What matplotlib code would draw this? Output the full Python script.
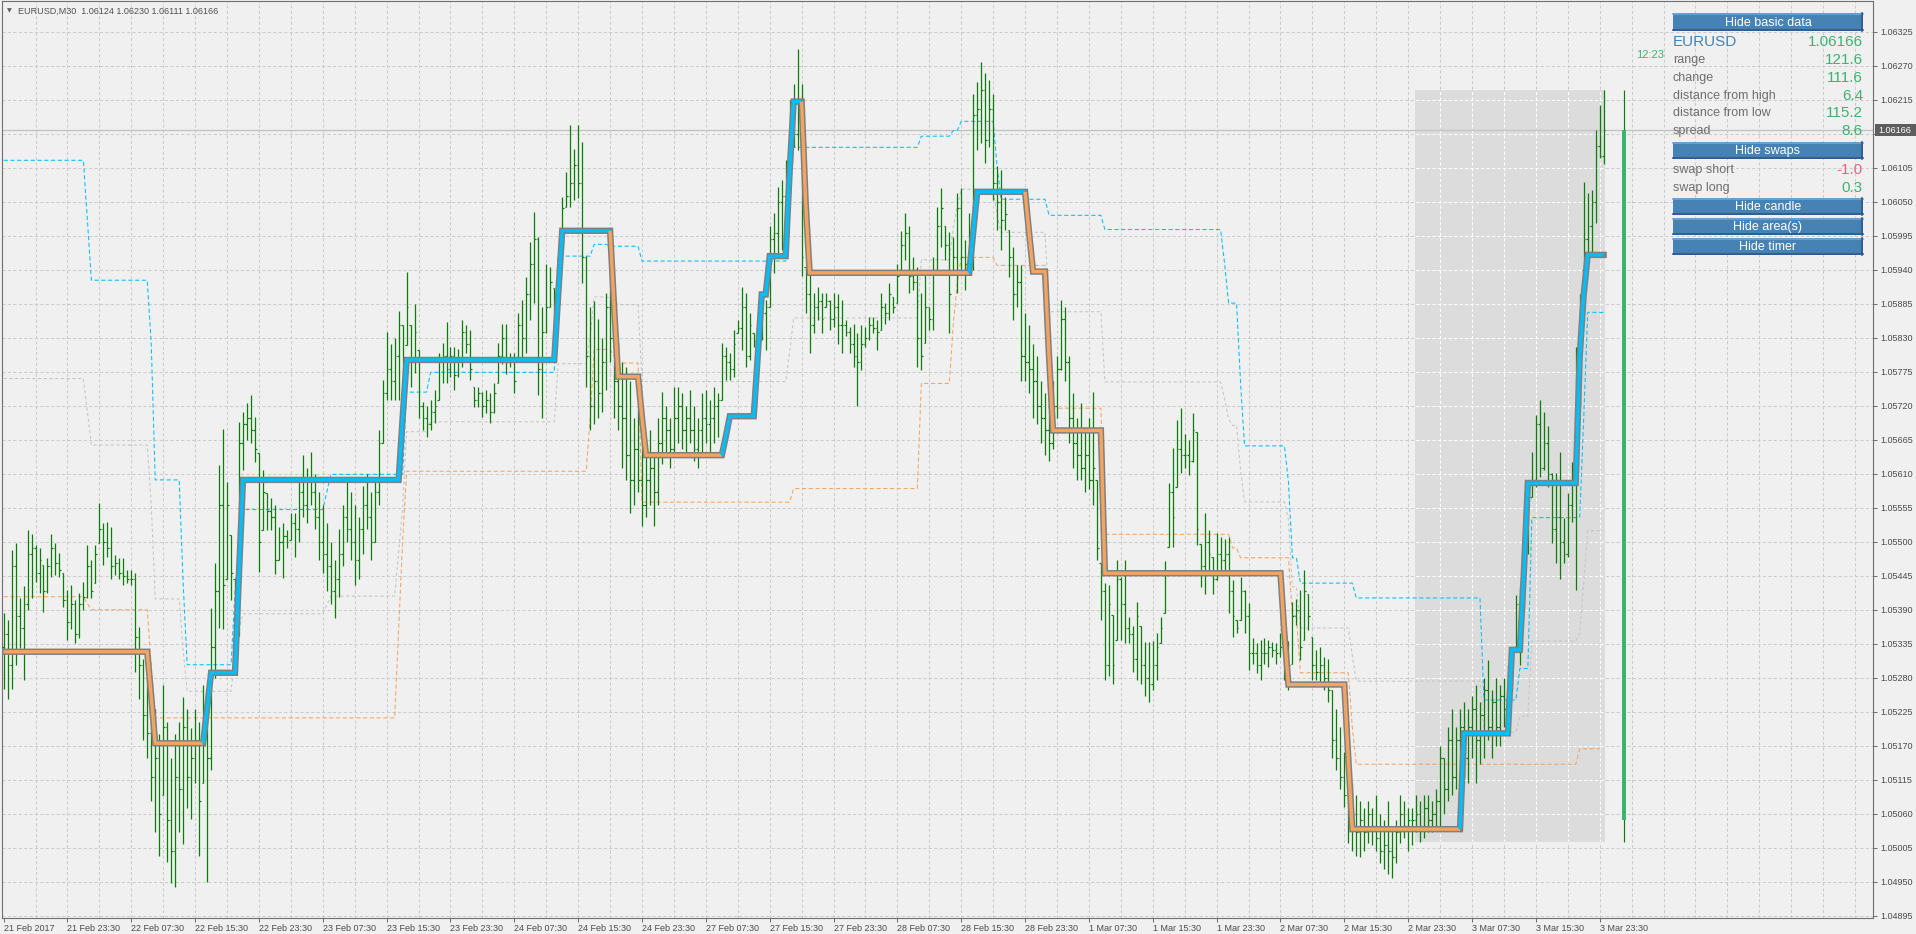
import numpy as np
import matplotlib
matplotlib.use("Agg")
import matplotlib.pyplot as plt
from matplotlib.patches import Rectangle

plt.rcParams['font.family'] = ['Liberation Sans', 'DejaVu Sans']

# ---------------- data (prices in points above 1.00000) ----------------
hi = [5384, 5374, 5487, 5498, 5409, 5428, 5519, 5513, 5495, 5490,
      5463, 5474, 5513, 5498, 5482, 5450, 5422, 5430, 5406, 5417,
      5435, 5495, 5471, 5495, 5562, 5530, 5532, 5524, 5479, 5474,
      5474, 5455, 5455, 5450, 5362, 5310, 5280, 5250, 5229, 5189,
      5269, 5209, 5150, 5189, 5209, 5249, 5229, 5199, 5229, 5209,
      5269, 5229, 5393, 5466, 5624, 5683, 5597, 5511, 5439, 5694,
      5710, 5724, 5737, 5702, 5643, 5616, 5579, 5571, 5560, 5524,
      5530, 5519, 5546, 5546, 5600, 5640, 5620, 5645, 5610, 5580,
      5560, 5530, 5500, 5470, 5520, 5560, 5600, 5580, 5560, 5540,
      5590, 5610, 5580, 5600, 5680, 5761, 5839, 5820, 5830, 5874,
      5850, 5936, 5850, 5884, 5810, 5726, 5720, 5730, 5745, 5805,
      5821, 5855, 5815, 5815, 5812, 5858, 5850, 5842, 5750, 5750,
      5742, 5745, 5740, 5756, 5821, 5853, 5853, 5805, 5805, 5870,
      5891, 5928, 5985, 6033, 5993, 5880, 5950, 5945, 5910, 5960,
      6058, 6098, 6174, 6136, 6174, 6146, 5963, 5879, 5890, 5860,
      5830, 5902, 5983, 5842, 5822, 5790, 5783, 5760, 5700, 5720,
      5704, 5660, 5680, 5645, 5700, 5743, 5720, 5700, 5750, 5750,
      5740, 5720, 5745, 5720, 5700, 5740, 5745, 5730, 5750, 5740,
      5821, 5815, 5805, 5842, 5858, 5912, 5902, 5870, 5837, 5870,
      5891, 5891, 6010, 6031, 6074, 6085, 6117, 6215, 6240, 6297,
      6240, 5944, 5950, 5902, 5912, 5902, 5902, 5891, 5902, 5900,
      5891, 5858, 5848, 5853, 5837, 5850, 5848, 5864, 5864, 5858,
      5902, 5886, 5918, 5896, 5950, 6002, 6031, 6010, 5961, 5945,
      5902, 5934, 5880, 5961, 6042, 6072, 6010, 6001, 5993, 6064,
      6072, 5988, 6031, 6225, 6244, 6276, 6258, 6247, 6225, 6107,
      6101, 6058, 6004, 5977, 5947, 5947, 5870, 5850, 5820, 5800,
      5760, 5740, 5720, 5760, 5800, 5891, 5880, 5800, 5740, 5700,
      5724, 5680, 5700, 5743, 5600, 5465, 5433, 5430, 5382, 5471,
      5443, 5471, 5379, 5363, 5403, 5363, 5338, 5338, 5340, 5352,
      5379, 5468, 5595, 5651, 5697, 5716, 5675, 5665, 5708, 5678,
      5497, 5546, 5519, 5476, 5514, 5508, 5505, 5508, 5438, 5373,
      5443, 5422, 5401, 5344, 5336, 5341, 5344, 5341, 5338, 5336,
      5352, 5338, 5340, 5403, 5408, 5422, 5455, 5416, 5346, 5325,
      5330, 5314, 5311, 5260, 5229, 5200, 5160, 5120, 5110, 5091,
      5080, 5070, 5081, 5070, 5090, 5060, 5050, 5081, 5040, 5050,
      5090, 5081, 5070, 5070, 5091, 5081, 5090, 5091, 5081, 5100,
      5170, 5150, 5200, 5229, 5200, 5229, 5240, 5229, 5250, 5269,
      5240, 5280, 5308, 5260, 5280, 5269, 5280, 5300, 5309, 5414,
      5427, 5546, 5600, 5645, 5705, 5729, 5710, 5687, 5611, 5611,
      5645, 5538, 5579, 5629, 5815, 5900, 6082, 6064, 6069, 6166,
      6206, 6230]
lo = [5261, 5245, 5261, 5300, 5328, 5277, 5390, 5409, 5435, 5417,
      5387, 5417, 5443, 5446, 5443, 5395, 5341, 5358, 5336, 5345,
      5390, 5409, 5409, 5433, 5498, 5463, 5476, 5439, 5446, 5439,
      5430, 5433, 5430, 5290, 5245, 5180, 5150, 5080, 5031, 4992,
      5090, 4982, 4948, 4942, 5031, 5011, 5070, 5051, 5110, 4992,
      5110, 4950, 5130, 5280, 5360, 5359, 5439, 5406, 5377, 5347,
      5616, 5665, 5660, 5629, 5451, 5519, 5519, 5519, 5448, 5471,
      5441, 5490, 5503, 5476, 5500, 5540, 5530, 5560, 5520, 5470,
      5450, 5420, 5400, 5377, 5410, 5460, 5500, 5470, 5430, 5440,
      5480, 5520, 5470, 5500, 5560, 5660, 5729, 5729, 5729, 5729,
      5729, 5818, 5750, 5773, 5700, 5680, 5670, 5680, 5692, 5729,
      5756, 5756, 5767, 5745, 5767, 5782, 5805, 5761, 5718, 5718,
      5702, 5708, 5692, 5708, 5756, 5788, 5772, 5783, 5740, 5799,
      5799, 5805, 5858, 5886, 5737, 5700, 5837, 5880, 5805, 5860,
      6000, 6041, 6041, 6053, 6056, 5918, 5750, 5680, 5690, 5700,
      5710, 5745, 5790, 5700, 5680, 5620, 5600, 5546, 5560, 5580,
      5526, 5540, 5560, 5526, 5560, 5625, 5640, 5620, 5640, 5660,
      5650, 5640, 5660, 5630, 5620, 5640, 5660, 5640, 5660, 5670,
      5729, 5762, 5762, 5767, 5837, 5810, 5783, 5794, 5815, 5815,
      5826, 5810, 5880, 5935, 5967, 5972, 6026, 6074, 6139, 6134,
      5930, 5870, 5805, 5837, 5858, 5837, 5880, 5842, 5848, 5820,
      5805, 5832, 5805, 5783, 5720, 5778, 5815, 5826, 5837, 5810,
      5842, 5853, 5858, 5870, 5886, 5934, 5956, 5902, 5907, 5783,
      5778, 5821, 5842, 5842, 5934, 5977, 5956, 5837, 5934, 5902,
      5934, 5907, 5961, 5940, 6134, 6145, 6112, 6139, 6053, 6004,
      5972, 6004, 5929, 5858, 5880, 5760, 5760, 5740, 5700, 5690,
      5660, 5640, 5630, 5650, 5700, 5778, 5760, 5660, 5620, 5600,
      5600, 5580, 5585, 5560, 5470, 5373, 5277, 5282, 5270, 5341,
      5341, 5336, 5336, 5290, 5277, 5270, 5250, 5240, 5260, 5277,
      5336, 5384, 5492, 5492, 5589, 5611, 5619, 5608, 5629, 5495,
      5427, 5416, 5455, 5416, 5438, 5449, 5455, 5384, 5346, 5352,
      5373, 5352, 5293, 5302, 5287, 5277, 5302, 5298, 5314, 5302,
      5314, 5277, 5260, 5302, 5365, 5309, 5341, 5357, 5277, 5277,
      5270, 5260, 5240, 5150, 5130, 5100, 5071, 5012, 5000, 4992,
      4990, 5000, 5012, 5010, 5000, 4980, 4970, 4962, 4956, 4980,
      5012, 5020, 5000, 5010, 5030, 5014, 5020, 5030, 5031, 5040,
      5040, 5060, 5080, 5091, 5100, 5110, 5120, 5110, 5150, 5110,
      5140, 5150, 5180, 5150, 5170, 5170, 5200, 5200, 5260, 5330,
      5300, 5387, 5480, 5572, 5589, 5605, 5616, 5589, 5498, 5465,
      5439, 5465, 5476, 5532, 5422, 5720, 5939, 5956, 5966, 6015,
      6120, 6111]
cl = [5350, 5300, 5460, 5380, 5360, 5400, 5480, 5490, 5450, 5470,
      5420, 5460, 5490, 5465, 5455, 5405, 5370, 5400, 5350, 5400,
      5410, 5460, 5420, 5480, 5520, 5500, 5490, 5460, 5465, 5450,
      5445, 5440, 5440, 5346, 5300, 5220, 5190, 5120, 5150, 5060,
      5200, 5050, 5000, 5120, 5100, 5200, 5120, 5150, 5180, 5080,
      5230, 5150, 5330, 5420, 5560, 5430, 5560, 5450, 5420, 5660,
      5690, 5700, 5680, 5650, 5500, 5580, 5550, 5540, 5470, 5500,
      5510, 5500, 5530, 5520, 5580, 5560, 5600, 5580, 5540, 5500,
      5480, 5460, 5420, 5440, 5480, 5540, 5520, 5500, 5470, 5520,
      5560, 5540, 5500, 5580, 5660, 5740, 5780, 5760, 5800, 5850,
      5780, 5880, 5790, 5840, 5720, 5700, 5690, 5710, 5720, 5790,
      5800, 5780, 5800, 5770, 5795, 5840, 5820, 5780, 5730, 5740,
      5720, 5730, 5710, 5740, 5800, 5830, 5790, 5795, 5760, 5850,
      5830, 5900, 5950, 5990, 5780, 5840, 5880, 5920, 5880, 5940,
      6040, 6060, 6080, 6110, 6080, 5960, 5800, 5720, 5760, 5740,
      5790, 5880, 5830, 5760, 5720, 5700, 5640, 5600, 5650, 5600,
      5560, 5600, 5620, 5580, 5660, 5700, 5680, 5650, 5700, 5720,
      5680, 5700, 5680, 5650, 5680, 5700, 5690, 5700, 5720, 5730,
      5800, 5790, 5780, 5820, 5845, 5880, 5800, 5850, 5825, 5860,
      5870, 5880, 5990, 6000, 6050, 6060, 6100, 6190, 6160, 6180,
      5960, 5900, 5850, 5880, 5890, 5860, 5890, 5860, 5880, 5850,
      5850, 5840, 5820, 5800, 5790, 5820, 5830, 5850, 5845, 5840,
      5880, 5870, 5900, 5880, 5930, 5980, 6000, 5930, 5920, 5830,
      5800, 5880, 5860, 5940, 6010, 6040, 5980, 5900, 5960, 6040,
      5960, 5950, 6000, 6190, 6200, 6230, 6150, 6200, 6080, 6050,
      6020, 6030, 5960, 5900, 5920, 5800, 5790, 5780, 5760, 5720,
      5700, 5680, 5660, 5720, 5780, 5860, 5790, 5700, 5660, 5640,
      5620, 5640, 5600, 5620, 5490, 5420, 5300, 5400, 5300, 5440,
      5400, 5360, 5350, 5310, 5380, 5300, 5280, 5270, 5300, 5330,
      5360, 5450, 5580, 5540, 5650, 5640, 5640, 5630, 5680, 5520,
      5460, 5500, 5480, 5440, 5480, 5470, 5480, 5420, 5380, 5360,
      5420, 5380, 5320, 5320, 5300, 5320, 5320, 5330, 5325, 5320,
      5330, 5290, 5300, 5380, 5390, 5330, 5420, 5380, 5300, 5290,
      5300, 5280, 5260, 5180, 5150, 5120, 5090, 5040, 5060, 5030,
      5050, 5030, 5060, 5040, 5020, 5000, 5010, 5000, 4990, 5030,
      5060, 5040, 5050, 5050, 5060, 5040, 5070, 5050, 5060, 5080,
      5150, 5100, 5180, 5120, 5180, 5200, 5150, 5200, 5230, 5180,
      5220, 5260, 5200, 5240, 5200, 5250, 5230, 5280, 5290, 5400,
      5380, 5520, 5560, 5600, 5690, 5620, 5660, 5610, 5520, 5540,
      5500, 5480, 5560, 5600, 5790, 5880, 5990, 6010, 6050, 6140,
      6124, 6166]
first_open = 5330

# step trend line: bar where each level starts, and the level
trend_start = [0, 37, 38, 51, 52, 59, 60, 100, 101, 139, 140, 153, 154, 160, 161,
               181, 182, 189, 190, 192, 197, 198, 201, 202, 243, 244, 257, 258,
               262, 263, 276, 321, 322, 337, 338, 366, 378, 381, 382, 395, 396, 397]
trend_level = [5322, 5250, 5174, 5230, 5288, 5450, 5600, 5700, 5794, 5900, 6003,
               5880, 5767, 5700, 5640, 5670, 5703, 5800, 5900, 5962, 6100, 6212,
               6050, 5935, 6000, 6066, 6000, 5937, 5800, 5680, 5449, 5350, 5269,
               5150, 5035, 5190, 5325, 5450, 5595, 5800, 5900, 5964]

# channel upper / lower (dashed)
upper_start = [0, 21, 22, 37, 38, 45, 46, 58, 59, 60, 81, 82, 101, 107, 139, 148,
               152, 160, 197, 198, 230, 238, 240, 249, 250, 262, 276, 306, 307,
               310, 311, 322, 323, 325, 339, 371, 380, 383, 396, 397]
upper_level = [6117, 6020, 5923, 5821, 5600, 5433, 5301, 5420, 5500, 5552, 5580,
               5609, 5742, 5774, 5962, 5981, 5978, 5954, 6050, 6138, 6156, 6165,
               6180, 6106, 6054, 6028, 6005, 5950, 5886, 5757, 5655, 5597, 5474,
               5433, 5409, 5244, 5295, 5539, 5700, 5871]
lower_start = [0, 21, 22, 37, 38, 99, 100, 101, 147, 148, 153, 154, 160, 198, 230,
               238, 239, 240, 249, 262, 276, 308, 310, 323, 325, 338, 339, 395]
lower_level = [5411, 5400, 5390, 5300, 5215, 5358, 5500, 5614, 5700, 5811, 5800,
               5789, 5564, 5586, 5756, 5850, 5920, 5960, 5947, 5716, 5512, 5490,
               5474, 5380, 5288, 5200, 5140, 5165]

# current day candle: open, high, low, close
day_ohlc = [5050, 6230, 5014, 6166]
day_first_bar = 354

date_labels = ["21 Feb 2017", "21 Feb 23:30", "22 Feb 07:30", "22 Feb 15:30",
               "22 Feb 23:30", "23 Feb 07:30", "23 Feb 15:30", "23 Feb 23:30",
               "24 Feb 07:30", "24 Feb 15:30", "24 Feb 23:30", "27 Feb 07:30",
               "27 Feb 15:30", "27 Feb 23:30", "28 Feb 07:30", "28 Feb 15:30",
               "28 Feb 23:30", "1 Mar 07:30", "1 Mar 15:30", "1 Mar 23:30",
               "2 Mar 07:30", "2 Mar 15:30", "2 Mar 23:30", "3 Mar 07:30",
               "3 Mar 15:30", "3 Mar 23:30"]
price_ticks = list(range(4895, 6326, 55))

title_text = "EURUSD,M30  1.06124 1.06230 1.06111 1.06166"
info_labels = ["range", "change", "distance from high", "distance from low", "spread"]
info_values = ["121.6", "111.6", "6.4", "115.2", "8.6"]
swap_labels = ["swap short", "swap long"]
swap_values = ["-1.0", "0.3"]
timer_text = "12:23"

# ---------------- helpers ----------------
def px(p):
    return 1.0 + np.asarray(p, float) / 1e5

def step_series(starts, levels, x):
    idx = np.searchsorted(starts, x, side='right') - 1
    return np.asarray(levels, float)[idx]

BG = '#F0F0F0'
GRID = '#CCCCCC'
BAR = '#0A7D0A'
BLUE = '#00BFFF'
ORANGE = '#F4A460'
W, H = 1916, 934

fig = plt.figure(figsize=(W / 100, H / 100), dpi=100)
fig.patch.set_facecolor(BG)
ax = fig.add_axes([2 / W, 16 / H, 1871 / W, 917 / H])
ax.set_facecolor(BG)
XMIN, XMAX = -0.4, 468.5
YMIN, YMAX = px(4891.3), px(6374.7)
ax.set_xlim(XMIN, XMAX)
ax.set_ylim(YMIN, YMAX)

bars = np.arange(len(cl))

# grid
xg = np.arange(8, XMAX, 8)
yg = px(price_ticks)
grid_kw = dict(linewidth=0.75, linestyles=(0, (3, 2.2)))
ax.vlines(xg, YMIN, YMAX, colors=GRID, zorder=0.5, **grid_kw)
ax.hlines(yg, XMIN, XMAX, colors=GRID, zorder=0.5, **grid_kw)

# day area
d_open, d_high, d_low, d_close = day_ohlc
area = Rectangle((day_first_bar - 0.4, px(d_low)), bars[-1] - day_first_bar + 0.8,
                 px(d_high) - px(d_low), facecolor='#DCDCDC', edgecolor='none', zorder=1)
ax.add_patch(area)
wv = ax.vlines(xg, YMIN, YMAX, colors='white', zorder=1.2, **grid_kw)
wh = ax.hlines(yg, XMIN, XMAX, colors='white', zorder=1.2, **grid_kw)
wv.set_clip_path(area)
wh.set_clip_path(area)

# current price line
ax.axhline(px(cl[-1]), color='#C4C4C4', lw=1.0, zorder=1.5)

# channel lines
upper = step_series(upper_start, upper_level, bars)
lower = step_series(lower_start, lower_level, bars)
mid = (upper + lower) / 2
ax.plot(bars, px(mid), color='#C4C4C4', lw=0.75, dashes=(3, 2.5), zorder=2)
ax.plot(bars, px(upper), color=BLUE, lw=0.75, dashes=(4, 2.5), zorder=2.1)
ax.plot(bars, px(lower), color=ORANGE, lw=0.75, dashes=(4, 2.5), zorder=2.1)

# OHLC bars
hi_a, lo_a, cl_a = np.array(hi), np.array(lo), np.array(cl)
op_a = np.clip(np.r_[first_open, cl_a[:-1]], lo_a, hi_a)
cl_a = np.clip(cl_a, lo_a, hi_a)
ax.vlines(bars, px(lo_a), px(hi_a), colors=BAR, lw=0.9, zorder=3)
ax.hlines(px(op_a), bars - 0.4, bars, colors=BAR, lw=0.85, zorder=3)
ax.hlines(px(cl_a), bars, bars + 0.4, colors=BAR, lw=0.85, zorder=3)

# day candle, drawn a few bars right of the last bar
cx = bars[-1] + 5
ax.vlines(cx, px(d_low), px(d_high), colors=BAR, lw=0.85, zorder=3)
ax.add_patch(Rectangle((cx - 0.5, px(d_open)), 1.0, px(d_close) - px(d_open),
                       facecolor='#3CB371', edgecolor='none', zorder=3.1))

# step trend line with grey outline, blue when rising, orange when falling
trend = step_series(trend_start, trend_level, bars)
ax.plot(bars, px(trend), color='#808080', lw=4.6, solid_joinstyle='miter',
        solid_capstyle='projecting', zorder=4)
state = []
cur = 'down'
for v in np.diff(trend):
    if v > 0:
        cur = 'up'
    elif v < 0:
        cur = 'down'
    state.append(cur)
s = 0
for i in range(1, len(state) + 1):
    if i == len(state) or state[i] != state[s]:
        ax.plot(bars[s:i + 1], px(trend[s:i + 1]),
                color=BLUE if state[s] == 'up' else ORANGE, lw=2.4,
                solid_joinstyle='miter', solid_capstyle='butt', zorder=5)
        s = i

# axes styling
for sp in ax.spines.values():
    sp.set_color('#707070')
    sp.set_linewidth(0.8)
ax.yaxis.tick_right()
ax.set_yticks(yg)
# the label under the current price tag is hidden, as on the terminal
ylabels = [f"{1 + t / 1e5:.5f}" for t in price_ticks]
ylabels = ['' if abs(t - cl[-1]) < 20 else lab for t, lab in zip(price_ticks, ylabels)]
ax.set_yticklabels(ylabels)
ax.tick_params(axis='y', direction='out', length=3, width=0.75, colors='#707070',
               labelcolor='#4A4A4A', labelsize=6.5, pad=2)
ax.set_xticks(np.arange(0, 16 * len(date_labels), 16))
ax.set_xticklabels(date_labels, ha='left')
ax.tick_params(axis='x', direction='out', length=3, width=0.75, colors='#707070',
               labelcolor='#4A4A4A', labelsize=6.5, pad=1.5)

# ---------------- overlay: title, panel, price tag ----------------
ui = fig.add_axes([0, 0, 1, 1], zorder=10)
ui.set_xlim(0, W)
ui.set_ylim(H, 0)
ui.axis('off')

ui.text(7, 11, '\u25bc', fontsize=4.5, color='#606060', va='center',
        family=['DejaVu Sans'])
ui.text(18, 11, title_text, fontsize=6.5, color='#505050', va='center')

# price tag on the axis
ui.add_patch(Rectangle((1875, 124), 41, 12, facecolor='#5E5E5E', edgecolor='none'))
ui.text(1878, 130.5, f"{1 + cl[-1] / 1e5:.5f}", fontsize=6.5, color='white', va='center')

ui.text(1664, 55, timer_text, fontsize=8, color='#3CB371', ha='right', va='center')

PX0, PX1 = 1673, 1863

def button(label, y0, y1):
    ui.add_patch(Rectangle((PX0, y0), PX1 - PX0, y1 - y0, facecolor='#4682B4',
                           edgecolor='none'))
    ui.plot([PX0, PX1], [y0 + 0.8, y0 + 0.8], color='#6FA5D8', lw=1.2)
    ui.plot([PX0, PX1], [y1 - 0.8, y1 - 0.8], color='#2B5A88', lw=1.2)
    ui.plot([PX1 - 0.8, PX1 - 0.8], [y0, y1], color='#2B5A88', lw=1.2)
    ui.text((PX0 + PX1) / 2, (y0 + y1) / 2 + 0.5, label, fontsize=9, color='white',
            ha='center', va='center')

button("Hide basic data", 13, 31)
ui.text(PX0, 42, "EURUSD", fontsize=11, color='#4682B4', va='center')
ui.text(PX1, 42, f"{1 + cl[-1] / 1e5:.5f}", fontsize=11, color='#3CB371',
        ha='right', va='center')
for lab, val, y in zip(info_labels, info_values, [60, 78, 96, 113, 131]):
    ui.text(PX0, y, lab, fontsize=9, color='#6E6E6E', va='center')
    ui.text(PX1, y, val, fontsize=11, color='#3CB371', ha='right', va='center')
button("Hide swaps", 142, 159)
for lab, val, y in zip(swap_labels, swap_values, [170, 188]):
    ui.text(PX0, y, lab, fontsize=9, color='#6E6E6E', va='center')
    ui.text(PX1, y, val, fontsize=11, ha='right', va='center',
            color='#E36388' if val.startswith('-') else '#3CB371')
button("Hide candle", 198, 215)
button("Hide area(s)", 218, 235)
button("Hide timer", 238, 255)

fig.savefig("out.png", dpi=100, facecolor=BG)
